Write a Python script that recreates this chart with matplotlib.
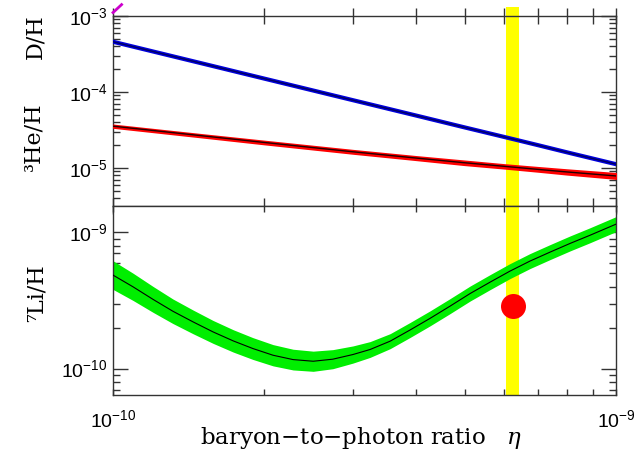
import numpy as np
import matplotlib
matplotlib.use('Agg')
import matplotlib.pyplot as plt
from matplotlib.ticker import LogLocator, NullFormatter

plt.rcParams['mathtext.fontset'] = 'custom'
plt.rcParams['mathtext.rm'] = 'Liberation Sans'
plt.rcParams['mathtext.it'] = 'DejaVu Serif:italic'
plt.rcParams['font.family'] = 'Liberation Sans'

# D/H and 3He/H
eta = np.array([1.0, 1.5, 2.0, 3.0, 4.0, 5.0, 6.0, 7.0, 8.0, 10.0]) * 1e-10
dh = [4.55e-4, 2.37e-4, 1.49e-4, 7.76e-5, 4.89e-5, 3.41e-5, 2.55e-5, 1.99e-5, 1.60e-5, 1.12e-5]
he3 = [3.54e-5, 2.65e-5, 2.16e-5, 1.63e-5, 1.35e-5, 1.17e-5, 1.05e-5, 9.57e-6, 8.85e-6, 7.85e-6]
he3_hi = [3.68e-5, 2.76e-5, 2.26e-5, 1.71e-5, 1.42e-5, 1.24e-5, 1.11e-5, 1.02e-5, 9.5e-6, 8.5e-6]
he3_lo = [3.40e-5, 2.54e-5, 2.06e-5, 1.55e-5, 1.28e-5, 1.10e-5, 0.99e-5, 9.0e-6, 8.25e-6, 7.25e-6]

# 7Li/H (eta in units of 1e-10)
eta_li = [1.000, 1.096, 1.202, 1.315, 1.442, 1.581, 1.734, 1.897, 2.080, 2.280, 2.500, 2.735, 2.999,
          3.243, 3.556, 3.890, 4.266, 4.677, 5.129, 5.623, 6.152, 6.745, 7.396, 8.110, 8.872, 10.0]
li = [4.853e-10, 3.981e-10, 3.214e-10, 2.636e-10, 2.203e-10, 1.858e-10, 1.596e-10, 1.403e-10,
      1.253e-10, 1.164e-10, 1.132e-10, 1.172e-10, 1.268e-10, 1.380e-10, 1.589e-10, 1.914e-10,
      2.333e-10, 2.871e-10, 3.556e-10, 4.315e-10, 5.188e-10, 6.152e-10, 7.161e-10, 8.299e-10,
      9.506e-10, 1.148e-9]
li_width = [0.105, 0.100, 0.095, 0.090, 0.087, 0.084, 0.082, 0.080, 0.078, 0.076, 0.074, 0.070, 0.063,
            0.058, 0.055, 0.055, 0.055, 0.055, 0.055, 0.055, 0.055, 0.055, 0.055, 0.055, 0.055, 0.055]  # dex

# edge of a curve poking out at top left
he4_eta = [1.0e-10, 1.04e-10]
he4 = [1.1e-3, 1.4e-3]

# CMB band and observed Li
cmb_lo, cmb_hi = 6.04e-10, 6.41e-10
li_obs_eta = 6.25e-10
li_obs = 2.87e-10

eta_li = np.array(eta_li) * 1e-10
li = np.array(li)
w = 10 ** np.array(li_width)

fig = plt.figure(figsize=(6.4, 4.57), dpi=100)
ax1 = fig.add_axes([0.1766, 0.5492, 0.7859, 0.4164])
ax2 = fig.add_axes([0.1766, 0.1357, 0.7859, 0.4135])

for ax in (ax1, ax2):
    ax.set_xscale('log')
    ax.set_yscale('log')
    ax.set_xlim(1e-10, 1e-9)
    for s in ax.spines.values():
        s.set_color('#333333')
        s.set_linewidth(1.0)

ax1.axvspan(cmb_lo, cmb_hi, ymin=0, ymax=1.047, color='#ffff00', lw=0, clip_on=False, zorder=1)
ax2.axvspan(cmb_lo, cmb_hi, color='#ffff00', lw=0, zorder=1)

ax1.plot(eta, dh, color='#0000dd', lw=3.0, zorder=3)
ax1.plot(eta, dh, color='#000060', lw=1.0, zorder=4)
ax1.fill_between(eta, he3_lo, he3_hi, color='#ff0000', lw=1.2, edgecolor='#ff0000', zorder=3)
ax1.plot(eta, he3, color='#220000', lw=1.0, zorder=4)
ax1.plot(he4_eta, he4, color='#cc00cc', lw=2, clip_on=False, zorder=4)
ax1.set_ylim(3.16e-6, 1e-3)

ax2.fill_between(eta_li, li / w, li * w, color='#00ee00', lw=0, zorder=2)
ax2.plot(eta_li, li, color='black', lw=0.8, zorder=3)
ax2.plot([li_obs_eta], [li_obs], 'o', color='#ff0000', ms=18, mec='none', zorder=5)
ax2.set_ylim(6.4e-11, 1.56e-9)

# ticks
for ax in (ax1, ax2):
    ax.yaxis.set_major_locator(LogLocator(base=10, numticks=10))
    ax.yaxis.set_minor_locator(LogLocator(base=10, subs=np.arange(2, 10), numticks=10))
    ax.yaxis.set_minor_formatter(NullFormatter())
    ax.xaxis.set_minor_formatter(NullFormatter())
    ax.tick_params(axis='y', which='major', direction='in', length=10.5, width=1.0,
                   left=True, right=True, color='#333333', labelsize=14, pad=4)
    ax.tick_params(axis='y', which='minor', direction='in', length=5, width=1.0,
                   left=True, right=True, color='#333333')
ax1.tick_params(axis='x', which='both', direction='inout', length=11, width=1.0,
                top=True, bottom=True, labelbottom=False, color='#333333')
ax2.tick_params(axis='x', which='both', direction='in', length=4, width=1.0,
                top=True, bottom=True, color='#333333', labelsize=14, pad=10)

ax2.set_xticks([1e-10, 1e-9])
ax2.set_xticklabels([r'$10^{-10}$', r'$10^{-9}$'])

lab = dict(family='DejaVu Serif', fontsize=16, rotation=90, ha='center', va='center')
fig.text(0.055, 0.919, 'D/H', **lab)
fig.text(0.052, 0.700, '³He/H', **lab)
fig.text(0.058, 0.359, '⁷Li/H', **lab)
fig.text(0.565, 0.042, 'baryon\u2212to\u2212photon ratio   $\\eta$', family='DejaVu Serif',
         fontsize=16.5, ha='center', va='center')

fig.savefig('out.png', dpi=100)
